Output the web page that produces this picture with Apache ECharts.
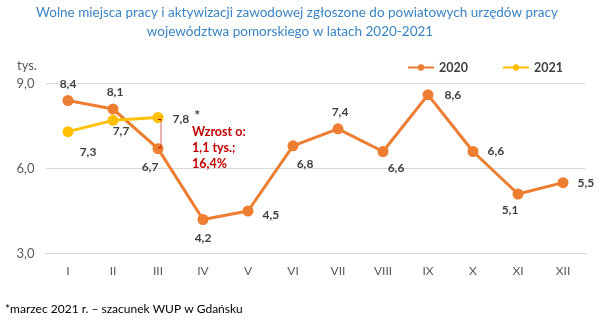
<!DOCTYPE html>
<html><head><meta charset="utf-8">
<script src="https://cdn.jsdelivr.net/npm/echarts@6/dist/echarts.min.js"></script>
<style>html,body{margin:0;padding:0;background:#fff}#c{width:614px;height:333px}</style>
</head><body><div id="c"></div>
<script>
var months = ['I','II','III','IV','V','VI','VII','VIII','IX','X','XI','XII'];
var values2020 = [8.4, 8.1, 6.7, 4.2, 4.5, 6.8, 7.4, 6.6, 8.6, 6.6, 5.1, 5.5];
var values2021 = [7.3, 7.7, 7.8];
var yTicks = [3, 6, 9];
var titleLines = ['Wolne miejsca pracy i aktywizacji zawodowej zgłoszone do powiatowych urzędów pracy', 'województwa pomorskiego w latach 2020-2021'];
var footnote = '*marzec 2021 r. – szacunek WUP w Gdańsku';
var annotationText = ['Wzrost o:', '1,1 tys.;', '16,4%'];

var FONT = 'Lato';
var fmt = function (v) { return v.toFixed(1).replace('.', ','); };

// label placement per point (style only)
var pos2020 = [
  ['top',[0,0]],['top',[2,0]],['bottom',[-8,2]],['bottom',[0,2]],['right',[4,4]],['bottom',[12,2]],
  ['top',[2,0]],['bottom',[13,0]],['right',[6,0]],['right',[4,0]],['bottom',[-8,0]],['right',[4,0]]
];
var pos2021 = [['bottom',[20,4]],['bottom',[8,-6]],['right',[4,2]]];

var lblBase = {show:true, color:'#404040', fontFamily:FONT, fontSize:12, fontWeight:'bold'};

var data2020 = values2020.map(function (v, i) {
  return {value:v, label:Object.assign({}, lblBase, {position:pos2020[i][0], offset:pos2020[i][1], formatter:fmt(v)})};
});
var data2021 = values2021.map(function (v, i) {
  var f = fmt(v);
  if (i === 2) f = f + '{s|*}';
  return {value:v, label:Object.assign({}, lblBase, {position:pos2021[i][0], offset:pos2021[i][1], formatter:f,
    rich:{s:{fontSize:14, fontWeight:'bold', color:'#404040', verticalAlign:'top', padding:[0,0,8,5], fontFamily:FONT}}})};
});

var chart = echarts.init(document.getElementById('c'));
chart.setOption({
  animation:false,
  textStyle:{fontFamily:FONT},
  title:[
    {text:titleLines[0], left:292, top:1, textAlign:'center', textStyle:{color:'#3B84C4', fontSize:13.5, fontWeight:'normal', fontFamily:FONT}},
    {text:titleLines[1], left:285, top:20, textAlign:'center', textStyle:{color:'#3B84C4', fontSize:13.5, fontWeight:'normal', fontFamily:FONT}},
    {text:'tys.', left:12, top:54, textStyle:{color:'#595959', fontSize:13, fontWeight:'normal', fontFamily:FONT}},
    {text:footnote, left:0, top:298, textStyle:{color:'#000', fontSize:12, fontWeight:'normal', fontFamily:FONT}}
  ],
  legend:{
    top:56, left:402, itemWidth:26, itemHeight:8, itemGap:34,
    textStyle:{color:'#404040', fontSize:12.5, fontWeight:'bold', fontFamily:FONT},
    data:['2020','2021']
  },
  grid:{left:45.5, right:28.5, top:83.5, bottom:79.5},
  xAxis:{
    type:'category', data:months, boundaryGap:true,
    axisLine:{show:true, lineStyle:{color:'#D9D9D9'}}, axisTick:{show:false},
    axisLabel:{color:'#595959', fontSize:12, margin:12, fontFamily:FONT}
  },
  yAxis:{
    type:'value', min:yTicks[0], max:yTicks[yTicks.length-1], interval:3,
    axisLine:{show:false}, axisTick:{show:false},
    splitLine:{lineStyle:{color:'#D9D9D9'}},
    axisLabel:{color:'#595959', fontSize:13, margin:11, fontFamily:FONT, formatter:function(v){return fmt(v);}}
  },
  series:[
    {name:'2020', type:'line', data:data2020, symbol:'circle', symbolSize:11,
     lineStyle:{color:'#ED7D31', width:3}, itemStyle:{color:'#ED7D31'}, z:3},
    {name:'2021', type:'line', data:data2021, symbol:'circle', symbolSize:11,
     lineStyle:{color:'#FFC000', width:3}, itemStyle:{color:'#FFC000'}, z:4},
    {name:'annot', type:'custom', data:[[2, values2021[2], values2020[2]]], z:5, silent:true,
     renderItem:function(params, api){
       var top = api.coord([api.value(0), api.value(1)]);
       var bot = api.coord([api.value(0), api.value(2)]);
       var x = top[0] + 3;
       var y1 = top[1] + 2, y2 = bot[1] - 1;
       var red = '#C00000';
       return {type:'group', children:[
         {type:'line', shape:{x1:x, y1:y1, x2:x, y2:y2}, style:{stroke:red, lineWidth:1, opacity:0.6}},
         {type:'line', shape:{x1:x-3, y1:y1, x2:x, y2:y1}, style:{stroke:red, lineWidth:1}},
         {type:'line', shape:{x1:x-3, y1:y2, x2:x, y2:y2}, style:{stroke:red, lineWidth:1}},
         {type:'text', style:{x:x+31, y:y1+4, text:annotationText.join('\n'), fill:red, font:'bold 12.5px ' + FONT, lineHeight:16, textAlign:'left', textVerticalAlign:'top'}}
       ]};
     }}
  ]
});
</script></body></html>
